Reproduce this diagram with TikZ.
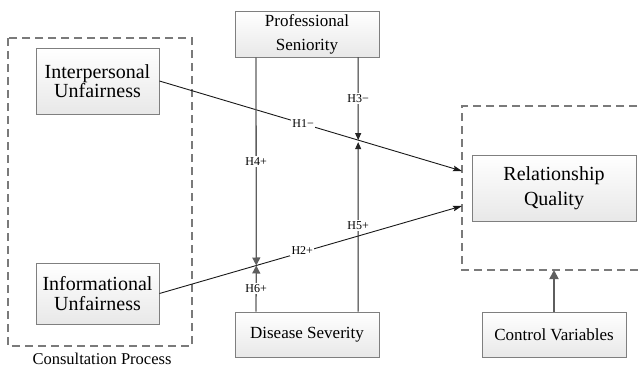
\documentclass[tikz,border=0pt]{standalone}
\usepackage{fontspec}
\setmainfont{Liberation Serif}
\usetikzlibrary{arrows.meta,calc}

\definecolor{boxline}{HTML}{7F7F7F}
\definecolor{modgray}{HTML}{5E5E5E}
\definecolor{groupline}{HTML}{7A7A7A}

\tikzset{
  construct/.style={draw=boxline, line width=0.9pt, top color=white, bottom color=black!9,
    align=center, inner sep=0pt},
  bigtext/.style={font=\fontsize{20}{19.5}\selectfont},
  midtext/.style={font=\fontsize{17}{24}\selectfont},
  grouping/.style={draw=groupline, line width=1.1pt, dash pattern=on 8pt off 5pt},
  mainpath/.style={draw=black!90, line width=0.9pt, -{Stealth[length=9pt,width=5.5pt,inset=1.5pt]}},
  modpath/.style={draw=modgray, line width=1.3pt, -{Triangle[length=8pt,width=8pt]}},
  darkmod/.style={draw=black!85, line width=1pt, -{Triangle[length=7pt,width=6pt]}},
  ctrlpath/.style={draw=modgray, line width=1.8pt, -{Triangle[length=9pt,width=9pt]}},
  hyp/.style={fill=white, inner sep=1.5pt, font=\fontsize{12}{12}\selectfont},
}

\begin{document}
\begin{tikzpicture}[x=1pt,y=-1pt]
  \clip (0,0) rectangle (640,368);
  \fill[white] (0,0) rectangle (640,368);

  % consultation process group
  \path[grouping] (8,38) rectangle (192,346);
  \node[font=\fontsize{16.5}{20}\selectfont] (cplabel) at (102,358.5) {Consultation Process};

  % outcome group (open to the right)
  \path[grouping] (650,106) -- (462,106) -- (462,270) -- (650,270);
  \coordinate (rq1) at (462,171);
  \coordinate (rq2) at (462,206);
  \coordinate (rqb) at (554,270);

  % constructs
  \node[construct, bigtext, minimum width=123pt, minimum height=66pt] (IU) at (97.5,81)
    {Interpersonal\\Unfairness};
  \node[construct, bigtext, minimum width=123pt, minimum height=61pt] (IF) at (97.5,293.5)
    {Informational\\Unfairness};
  \node[construct, midtext, minimum width=144pt, minimum height=46pt] (PS) at (307,34)
    {Professional\\Seniority};
  \node[construct, font=\fontsize{17}{20}\selectfont, minimum width=144pt, minimum height=45pt] (DS) at (307,334.5)
    {Disease Severity};
  \node[construct, font=\fontsize{20}{25}\selectfont, minimum width=164pt, minimum height=66pt] (RQ) at (554,188)
    {Relationship\\Quality};
  \node[construct, font=\fontsize{17}{20}\selectfont, minimum width=144pt, minimum height=45pt] (CV) at (554,334.5)
    {Control Variables};

  % anchor points of the moderating paths
  \coordinate (ps4) at ($(PS.south)+(-51,0)$);
  \coordinate (ps3) at ($(PS.south)+(51,0)$);
  \coordinate (ds6) at ($(DS.north)+(-51,0)$);
  \coordinate (ds5) at ($(DS.north)+(51,0)$);
  \coordinate (m4) at ($(IF.east)!0.3201!(rq2)$);
  \coordinate (m3) at ($(IU.east)!0.6568!(rq1)$);

  % direct effects
  \draw[mainpath] (IU.east) -- (rq1);
  \draw[mainpath] (IF.east) -- (rq2);

  % moderating effects
  \draw[modpath] (ps4) -- (m4);
  \draw[modpath] (ds6) -- (m4);
  \draw[darkmod] (ps3) -- (m3);
  \draw[darkmod] (ds5) -- ($(m3)+(0,2)$);

  % controls
  \draw[ctrlpath] (CV.north) -- (rqb);

  % hypothesis labels
  \node[hyp] (h1) at ($(IU.east)!0.475!(rq1)$) {H1−};
  \node[hyp] (h2) at ($(IF.east)!0.472!(rq2)+(0,-2)$) {H2+};
  \node[hyp] (h3) at ($(ps3)!0.5!(m3)$) {H3−};
  \node[hyp] (h4) at ($(ps4)!0.5!(m4)$) {H4+};
  \node[hyp] (h5) at ($(ds5)!0.5!(m3)$) {H5+};
  \node[hyp] (h6) at ($(ds6)!0.5!(m4)$) {H6+};
\end{tikzpicture}
\end{document}
